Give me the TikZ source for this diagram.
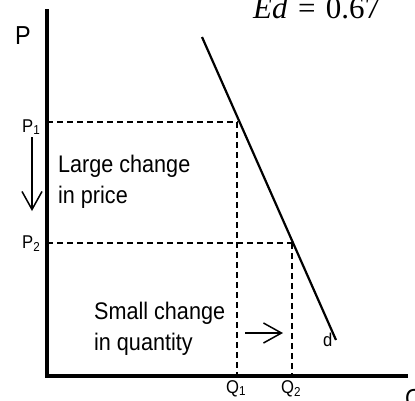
\documentclass[tikz,border=0pt]{standalone}
\usepackage{fontspec}
\setmainfont{Liberation Sans}
\newfontfamily\narrowsans[FakeStretch=0.9]{Liberation Sans}
\newfontfamily\eqfont{Liberation Serif}
\usetikzlibrary{arrows.meta}
\tikzset{
  axis/.style={line width=3.5pt, line join=miter, line cap=rect},
  demand/.style={line width=2.2pt},
  guide/.style={line width=1.6pt, dash pattern=on 6pt off 4pt},
  bigtxt/.style={inner sep=0pt, anchor=base west, font=\narrowsans\fontsize{24}{28}\selectfont},
  axlbl/.style={inner sep=0pt, anchor=base west, font=\narrowsans\fontsize{26}{30}\selectfont},
  smalllbl/.style={inner sep=0pt, anchor=base west, font=\narrowsans\fontsize{18.5}{22}\selectfont},
  chg/.style={line width=1.5pt, -{Straight Barb[length=18pt,width=20pt,line width=1.5pt]}},
}
\begin{document}
\begin{tikzpicture}[x=1pt,y=-1pt]
\useasboundingbox (0,0) rectangle (415,400);
\clip (0,0) rectangle (415,400);
% axes
\coordinate (ytop) at (47,11);
\coordinate (O) at (47,376);
\coordinate (xend) at (406,376);
% demand
\coordinate (dA) at (202,37);
\coordinate (dB) at (336,340);
% points
\coordinate (E1) at (238,122);
\coordinate (E2) at (293,243);
\coordinate (P1a) at (47,122);
\coordinate (P2a) at (47,243);
\coordinate (Q1a) at (237,376);
\coordinate (Q2a) at (292,376);
\draw[guide] (P1a) -- (E1);
\draw[guide] (237,122) -- (Q1a);
\draw[guide] (P2a) -- (E2);
\draw[guide] (292,243) -- (Q2a);
\draw[demand] (dA) -- (dB);
\draw[axis] (ytop) -- (O) -- (xend);
% labels
\node[axlbl] (P) at (15,44) {P};
\node[axlbl] (Q) at (405,407) {Q};
\node[smalllbl] (P1) at (22,132) {P\textsubscript{1}};
\node[smalllbl] (P2) at (22,248) {P\textsubscript{2}};
\node[smalllbl] (Q1) at (226,393) {Q\textsubscript{1}};
\node[smalllbl] (Q2) at (281,393) {Q\textsubscript{2}};
\node[smalllbl] (d) at (323,346) {d};
\node[bigtxt] (lc1) at (58,172) {Large change};
\node[bigtxt] (lc2) at (58,203) {in price};
\node[bigtxt] (sc1) at (94,319) {Small change};
\node[bigtxt] (sc2) at (94,350) {in quantity};
\node[inner sep=0pt, anchor=base west, font=\eqfont\fontsize{31}{34}\selectfont] (Ed) at (253,18.5) {\textit{Ed}\,\,=\,\,0.67};
% change arrows
\coordinate (da1) at (32,137);
\coordinate (da2) at (32,211);
\coordinate (ra1) at (245,333);
\coordinate (ra2) at (283,333);
\draw[chg] (da1) -- (da2);
\draw[chg] (ra1) -- (ra2);
\end{tikzpicture}
\end{document}
